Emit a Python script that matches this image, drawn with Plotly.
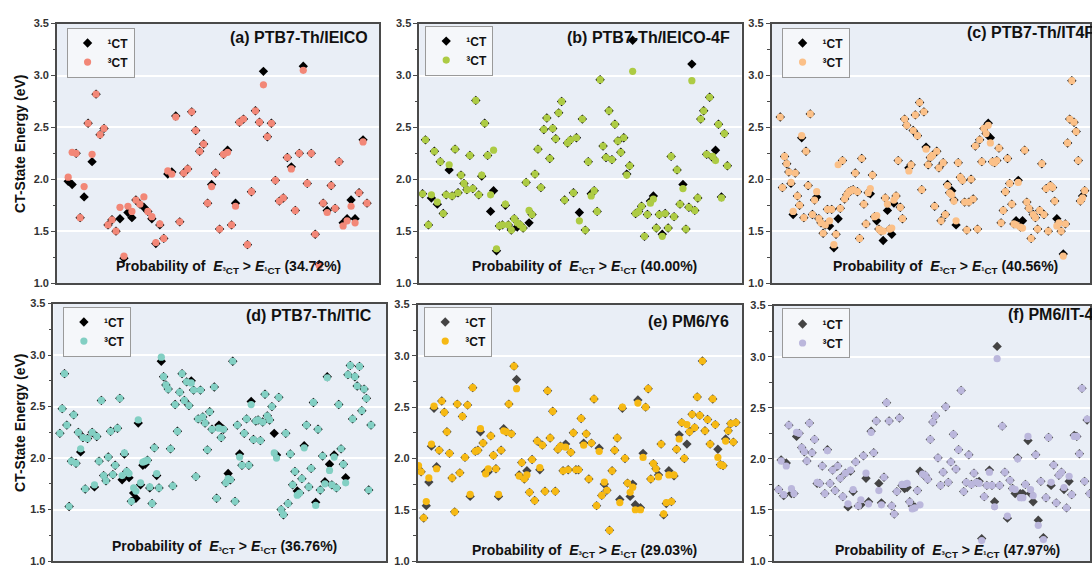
import plotly.graph_objects as go

W, H = 1092, 570

# ---------------- data (CT-state energies, eV) ----------------
A_1CT = [1.98,1.95,2.25,1.63,1.83,2.54,2.17,2.82,2.43,2.49,1.56,1.61,1.50,1.62,1.24,1.68,1.63,1.80,1.76,1.73,
         1.69,1.62,1.38,1.56,1.43,2.05,2.07,2.61,1.59,2.06,2.10,2.65,2.47,2.27,2.34,1.77,1.95,2.06,1.52,2.24,
         2.28,1.56,1.77,2.55,2.58,1.37,1.88,2.66,2.55,3.04,2.41,2.54,1.99,1.79,1.82,2.21,2.12,1.70,2.25,3.09,
         1.96,2.25,1.47,1.18,1.77,1.70,1.94,1.72,2.17,1.58,1.62,1.80,1.62,1.87,2.38,1.77]
A_3CT = [2.02,2.26,2.25,1.63,1.93,2.54,2.24,2.82,2.43,2.49,1.56,1.61,1.50,1.73,1.26,1.74,1.69,1.80,1.76,1.83,
         1.69,1.64,1.39,1.57,1.43,2.08,2.05,2.60,1.59,2.06,2.10,2.65,2.47,2.27,2.34,1.77,1.93,2.06,1.52,2.24,
         2.26,1.56,1.74,2.55,2.58,1.37,1.88,2.66,2.55,2.91,2.41,2.54,1.99,1.79,1.82,2.21,2.10,1.70,2.25,3.05,
         1.96,2.25,1.47,1.17,1.77,1.68,1.94,1.72,2.17,1.55,1.60,1.74,1.58,1.87,2.36,1.77]

B_1CT = [1.86,2.38,1.56,1.82,2.27,1.76,2.17,1.67,1.85,2.09,1.84,2.29,1.87,2.04,1.96,1.90,2.23,1.91,2.76,1.85,
         2.03,2.54,2.23,1.69,1.89,1.31,1.55,1.56,1.75,1.56,1.51,1.62,1.54,1.56,1.53,1.97,1.58,1.66,2.05,2.29,
         1.92,2.48,2.59,2.20,2.49,2.39,2.64,2.75,1.80,2.35,2.38,1.87,2.40,1.68,2.58,1.51,2.17,1.86,1.89,1.69,
         2.96,2.32,2.21,2.66,2.19,2.53,2.37,2.26,2.40,2.05,2.13,3.34,1.67,1.69,1.74,1.45,1.66,1.79,1.84,1.53,
         1.66,1.47,1.67,1.53,2.22,1.64,2.09,1.76,1.95,1.52,1.73,3.11,1.70,1.82,2.58,2.66,2.24,2.79,2.21,2.28,
         2.53,1.83,2.44,2.13]
B_3CT = [1.86,2.38,1.56,1.85,2.27,1.78,2.17,1.67,1.85,2.14,1.84,2.29,1.87,2.04,1.96,1.90,2.23,1.91,2.76,1.85,
         2.04,2.54,2.23,1.85,2.28,1.33,1.55,1.56,1.76,1.56,1.51,1.62,1.58,1.56,1.53,1.97,1.70,1.66,2.05,2.29,
         1.92,2.48,2.59,2.20,2.49,2.39,2.64,2.75,1.80,2.35,2.38,1.87,2.40,1.60,2.58,1.51,2.17,1.84,1.89,1.69,
         2.96,2.32,2.21,2.66,2.19,2.53,2.37,2.26,2.40,2.04,2.13,3.04,1.67,1.69,1.74,1.45,1.66,1.77,1.81,1.53,
         1.66,1.45,1.67,1.53,2.22,1.64,2.09,1.76,1.91,1.52,1.73,2.95,1.70,1.82,2.58,2.66,2.24,2.79,2.22,2.18,
         2.53,1.82,2.44,2.13]

C_1CT = [2.60,1.92,2.22,2.15,2.07,1.96,1.66,2.06,1.84,1.75,2.40,1.63,2.27,1.94,2.63,1.66,1.80,1.83,1.62,1.58,
         1.48,1.56,1.71,1.55,1.71,1.34,1.47,1.62,1.72,2.18,1.81,1.85,1.88,1.89,1.90,2.06,1.88,1.43,2.20,1.76,
         1.57,1.87,1.86,2.04,1.64,1.60,1.52,1.50,1.41,1.82,1.70,1.52,1.47,1.77,1.84,2.18,1.73,1.62,2.58,2.52,
         2.11,2.14,2.47,2.62,2.42,2.74,1.90,2.65,2.31,2.14,2.21,2.23,1.74,2.27,2.11,1.60,2.16,1.66,1.95,1.87,
         1.89,1.80,1.56,2.16,2.02,1.99,1.78,1.51,1.78,2.00,1.81,2.32,1.52,2.38,2.17,2.49,2.44,2.54,2.40,2.17,
         2.16,2.18,2.30,1.58,1.70,1.88,2.20,1.96,1.76,1.57,1.60,1.99,1.54,1.60,2.28,1.78,1.72,1.43,1.66,1.63,
         1.52,1.70,2.15,1.66,1.91,1.50,1.94,1.92,1.79,1.62,1.58,1.50,1.28,1.57,2.35,2.58,2.95,2.55,2.46,2.18,
         1.79,1.84,1.89]
C_3CT = [2.60,1.92,2.22,2.15,2.07,1.97,1.69,2.06,1.84,1.75,2.42,1.63,2.27,1.94,2.63,1.66,1.80,1.88,1.62,1.58,
         1.48,1.56,1.71,1.60,1.71,1.37,1.47,2.14,1.72,2.18,1.81,1.85,1.88,1.89,1.90,2.06,1.88,1.43,2.20,1.76,
         1.57,1.87,1.91,2.04,1.64,1.65,1.52,1.50,1.50,1.82,1.76,1.52,1.53,1.80,1.84,2.18,1.73,1.62,2.58,2.52,
         2.08,2.14,2.47,2.62,2.42,2.74,1.90,2.65,2.29,2.14,2.21,2.23,1.74,2.27,2.11,1.60,2.16,1.66,1.94,1.87,
         1.85,1.79,1.60,2.16,2.02,1.99,1.78,1.51,1.78,2.00,1.81,2.32,1.52,2.38,2.17,2.49,2.44,2.52,2.35,2.17,
         2.16,2.18,2.30,1.58,1.70,1.88,2.20,1.96,1.76,1.57,1.56,1.97,1.54,1.53,2.28,1.78,1.72,1.43,1.66,1.63,
         1.52,1.70,2.15,1.66,1.91,1.50,1.94,1.92,1.79,1.55,1.58,1.50,1.26,1.57,2.35,2.58,2.95,2.55,2.46,2.18,
         1.79,1.82,1.89]

D_1CT = [2.24,2.48,2.82,2.32,1.53,1.97,2.42,1.95,2.25,2.06,2.20,1.70,2.19,3.03,2.25,1.72,2.21,1.97,2.56,1.83,
         1.78,2.01,2.26,1.84,1.93,2.29,2.58,1.79,2.04,1.87,1.81,1.58,1.66,1.61,2.34,1.74,1.93,1.94,1.98,1.71,
         1.56,2.10,1.83,1.71,2.94,2.79,2.71,2.67,2.09,1.73,2.52,2.26,2.64,2.82,2.56,2.74,2.51,2.75,2.66,1.82,
         2.38,2.66,2.40,2.34,2.08,2.45,2.28,2.69,1.61,2.32,2.20,2.28,1.76,1.85,1.79,2.94,1.58,2.32,2.04,1.93,
         2.24,2.38,1.93,2.55,2.18,2.36,2.37,2.17,2.35,2.62,2.41,2.37,2.50,2.24,2.03,2.59,1.50,1.45,2.24,1.56,
         2.04,1.74,1.87,1.68,1.66,1.80,2.12,2.32,1.72,1.90,2.54,1.57,2.28,1.69,2.02,1.77,2.79,1.94,1.74,2.03,
         1.71,2.52,2.09,1.94,1.81,2.81,2.90,2.38,2.79,2.70,2.89,2.46,2.67,2.58,1.69,2.32]
D_3CT = [2.24,2.48,2.82,2.32,1.53,1.97,2.42,1.95,2.25,2.09,2.20,1.70,2.19,3.03,2.25,1.74,2.21,1.97,2.56,1.83,
         1.78,2.01,2.26,1.84,1.93,2.29,2.58,1.83,2.05,1.87,1.85,1.58,1.71,1.68,2.37,1.76,1.96,1.97,1.98,1.72,
         1.56,2.10,1.85,1.71,2.98,2.79,2.71,2.67,2.09,1.73,2.52,2.26,2.64,2.82,2.56,2.74,2.51,2.73,2.66,1.82,
         2.38,2.66,2.40,2.34,2.08,2.45,2.28,2.69,1.61,2.29,2.20,2.28,1.76,1.80,1.79,2.94,1.58,2.32,2.01,1.93,
         2.24,2.38,1.93,2.52,2.18,2.36,2.37,2.17,2.35,2.62,2.41,2.37,2.50,2.05,2.00,2.59,1.50,1.45,2.24,1.56,
         2.04,1.74,1.87,1.64,1.66,1.80,2.10,2.32,1.72,1.90,2.54,1.54,2.28,1.69,2.02,1.75,2.78,1.88,1.74,2.01,
         1.71,2.52,2.09,1.94,1.76,2.81,2.90,2.38,2.79,2.70,2.89,2.46,2.67,2.58,1.69,2.32]

E_1CT = [1.90,1.87,1.42,1.54,1.77,2.12,2.49,1.92,2.08,2.56,2.45,2.26,2.05,1.81,1.48,2.53,1.86,2.41,2.01,2.52,
         1.63,2.69,2.07,2.08,2.26,2.15,1.87,1.87,2.22,2.03,1.90,1.63,2.08,2.29,2.26,2.53,2.24,2.90,2.77,1.84,
         1.96,1.80,1.88,1.67,1.99,1.59,2.17,1.89,2.13,1.68,2.66,2.20,2.46,1.68,2.09,2.12,1.88,2.14,1.89,2.06,
         2.25,1.89,1.89,2.39,2.15,2.24,1.80,2.15,2.58,1.54,2.10,1.64,1.75,1.69,1.30,1.88,2.08,2.20,1.60,2.49,
         2.00,1.76,1.63,1.75,1.55,2.57,1.52,2.05,2.50,2.68,1.80,1.95,1.90,1.84,2.14,1.45,1.56,1.88,1.58,1.83,
         2.09,2.23,2.35,2.00,2.14,2.26,2.43,2.30,2.60,2.42,2.95,2.27,2.38,2.14,2.58,2.33,2.09,1.94,1.93,2.19,
         2.27,2.34,2.16,2.35]
E_3CT = [1.93,1.87,1.42,1.58,1.81,2.14,2.51,1.90,2.08,2.56,2.45,2.26,2.05,1.81,1.48,2.53,1.86,2.41,2.01,2.52,
         1.65,2.69,2.07,2.08,2.29,2.15,1.85,1.90,2.22,2.03,1.90,1.65,2.08,2.27,2.26,2.53,2.24,2.90,2.68,1.83,
         1.96,1.80,1.84,1.67,1.99,1.59,2.17,1.91,2.13,1.68,2.66,2.20,2.46,1.68,2.09,2.12,1.88,2.11,1.89,2.06,
         2.25,1.89,1.89,2.39,2.13,2.24,1.80,2.15,2.58,1.54,2.07,1.64,1.77,1.69,1.30,1.88,2.08,2.20,1.57,2.50,
         2.00,1.76,1.67,1.72,1.50,2.54,1.50,2.01,2.50,2.68,1.80,1.95,1.90,1.82,2.14,1.46,1.57,1.84,1.58,1.84,
         2.09,2.19,2.35,2.00,2.33,2.26,2.43,2.30,2.60,2.42,2.95,2.27,2.38,2.14,2.58,2.33,2.01,1.94,1.93,2.17,
         2.27,2.34,2.16,2.35]

F_1CT = [1.70,1.99,1.64,1.96,2.33,1.66,1.66,2.22,2.25,2.11,2.07,1.98,2.35,2.06,2.19,1.76,1.76,1.93,1.66,2.09,
         1.76,1.89,1.69,1.93,1.81,1.63,1.86,1.53,1.88,1.68,1.97,1.54,1.55,2.03,1.81,1.58,2.27,2.06,2.37,1.76,
         1.57,1.82,2.55,2.37,1.54,1.46,1.68,2.40,1.74,1.71,1.72,1.58,1.54,1.53,1.69,1.88,1.85,1.84,1.80,2.19,
         2.36,2.42,2.01,1.74,1.87,2.51,1.77,1.97,2.24,1.90,2.09,2.67,1.68,1.77,2.04,1.75,1.86,1.77,1.78,1.22,
         1.63,1.74,1.89,1.74,1.58,3.10,1.74,2.32,1.87,1.42,1.79,1.71,1.66,2.01,1.66,1.66,1.75,2.18,1.66,1.58,
         2.04,1.40,1.78,1.23,1.62,2.21,1.74,1.94,1.57,1.84,1.87,1.70,1.52,1.78,1.65,2.23,2.22,2.05,2.69,1.78,
         2.38,1.66]
F_3CT = [1.70,1.98,1.65,1.93,2.33,1.71,1.66,2.26,2.25,2.11,2.07,1.98,2.35,2.06,2.19,1.77,1.76,1.93,1.66,2.08,
         1.76,1.89,1.69,1.93,1.81,1.63,1.86,1.56,1.89,1.70,1.97,1.54,1.60,2.03,1.86,1.56,2.26,2.06,2.37,1.69,
         1.55,1.82,2.55,2.37,1.54,1.46,1.68,2.40,1.75,1.75,1.76,1.58,1.51,1.52,1.69,1.55,1.85,1.84,1.80,2.19,
         2.36,2.42,2.01,1.74,1.87,2.51,1.77,1.97,2.24,1.90,2.09,2.67,1.68,1.77,2.04,1.75,1.86,1.77,1.76,1.20,
         1.63,1.74,1.87,1.74,1.53,2.98,1.74,2.32,1.87,1.44,1.79,1.71,1.70,2.00,1.62,1.62,1.75,2.22,1.70,1.64,
         2.04,1.35,1.78,1.21,1.62,2.21,1.77,1.94,1.57,1.84,1.87,1.72,1.52,1.83,1.65,2.22,2.22,2.05,2.69,1.78,
         2.39,1.66]

TITLES = ["(a) PTB7-Th/IEICO", "(b) PTB7-Th/IEICO-4F", "(c) PTB7-Th/IT4F",
          "(d) PTB7-Th/ITIC", "(e) PM6/Y6", "(f) PM6/IT-4F"]
PROBS = ["34.72%", "40.00%", "40.56%", "36.76%", "29.03%", "47.97%"]
Y_TICKS = [1.0, 1.5, 2.0, 2.5, 3.0, 3.5]
SERIES_1CT = [A_1CT, B_1CT, C_1CT, D_1CT, E_1CT, F_1CT]
SERIES_3CT = [A_3CT, B_3CT, C_3CT, D_3CT, E_3CT, F_3CT]

# ---------------- styles / layout ----------------
COL_3CT = ["#F28777", "#ADCB44", "#FBC088", "#82CFC3", "#F6B914", "#BBB7DC"]
COL_1CT = ["#000000", "#000000", "#000000", "#000000", "#444444", "#444444"]
BG = "#E9EEF6"
FONT = "Arial, Liberation Sans, sans-serif"

# panel pixel geometry: left, right, top, bottom, first point x, last point x
GEOM = [
    (57, 380, 18, 283, 68.3, 367.7),
    (420, 743, 18, 283, 423.3, 728.7),
    (773, 1092, 18, 283, 781.7, 1086.7),
    (53.5, 386.7, 304, 567, 60.0, 371.7),
    (418.3, 743.3, 305, 567, 419.3, 737.3),
    (775, 1092, 306, 567, 780.0, 1091.7),
]
# title position (x px, y px, anchor)
TITLE_POS = [(371, 32, "right"), (733, 32, "right"), (967, 27, "left"),
             (375, 316, "right"), (732, 322, "right"), (1008, 315, "left")]
PROB_POS = [(228.7, 267), (585.7, 267), (947.5, 267), (224.7, 553), (585.7, 557), (949, 557)]
LEG_POS = [(66.7, 22), (426, 20), (783, 22), (63, 307), (425, 307), (783, 309)]

fig = go.Figure()
layout = {}
annotations = []

for i in range(6):
    n = i + 1
    sfx = "" if n == 1 else str(n)
    e1, e3 = SERIES_1CT[i], SERIES_3CT[i]
    npts = len(e1)
    xs = list(range(npts))
    left, right, top, bottom, first, last = GEOM[i]
    sp = (last - first) / (npts - 1)
    xr = [-(first - left) / sp, (npts - 1) + (right - last) / sp]
    leg = "legend" + sfx

    fig.add_trace(go.Scatter(
        x=xs, y=e1, mode="markers", name="\u00b9CT",
        marker=dict(symbol="diamond", size=7.2, color=COL_1CT[i], line=dict(width=0)),
        xaxis="x" + sfx, yaxis="y" + sfx, legend=leg))
    fig.add_trace(go.Scatter(
        x=xs, y=e3, mode="markers", name="\u00b3CT",
        marker=dict(symbol="circle", size=7.2, color=COL_3CT[i], line=dict(width=0)),
        xaxis="x" + sfx, yaxis="y" + sfx, legend=leg))

    layout["xaxis" + sfx] = dict(
        domain=[left / W, min(right / W, 1.0)], range=xr, anchor="y" + sfx,
        showgrid=False, zeroline=False, showticklabels=False, ticks="",
        showline=True, mirror=True, linecolor="#4a4a4a", linewidth=1.5)
    layout["yaxis" + sfx] = dict(
        domain=[1 - bottom / H, 1 - top / H], range=[1.0, 3.5], anchor="x" + sfx,
        tickvals=Y_TICKS, ticktext=["<b>%.1f</b>" % v for v in Y_TICKS],
        tickfont=dict(family=FONT, size=11, color="#333333"),
        ticks="outside", ticklen=4, tickwidth=1.2, tickcolor="#4a4a4a",
        minor=dict(dtick=0.25, tick0=1.0, ticks="outside", ticklen=2.5, tickcolor="#4a4a4a", showgrid=False),
        showgrid=True, gridcolor="#FFFFFF", gridwidth=1.5, zeroline=False,
        showline=True, mirror=True, linecolor="#4a4a4a", linewidth=1.5)

    lx, ly = LEG_POS[i]
    layout[leg] = dict(
        x=lx / W, y=1 - ly / H, xanchor="left", yanchor="top",
        bgcolor="#F5F7FA", bordercolor="#9a9a9a", borderwidth=1,
        font=dict(family=FONT, size=12, color="#111111", weight="bold"),
        itemwidth=30, tracegroupgap=0)

    tx, ty, tanc = TITLE_POS[i]
    annotations.append(dict(
        x=tx / W, y=1 - ty / H, xref="paper", yref="paper", xanchor=tanc, yanchor="middle",
        text="<b>%s</b>" % TITLES[i], showarrow=False,
        font=dict(family=FONT, size=16, color="#111111")))
    px_, py_ = PROB_POS[i]
    annotations.append(dict(
        x=px_ / W, y=1 - py_ / H, xref="paper", yref="paper", xanchor="center", yanchor="middle",
        text="<b>Probability of  <i>E</i><sub>\u00b3CT</sub> > <i>E</i><sub>\u00b9CT</sub> (%s)</b>" % PROBS[i],
        showarrow=False, font=dict(family=FONT, size=14, color="#111111")))

for yc in (141, 426):
    annotations.append(dict(
        x=20 / W, y=1 - yc / H, xref="paper", yref="paper", xanchor="center", yanchor="middle",
        text="<b>CT-State Energy (eV)</b>", textangle=-90, showarrow=False,
        font=dict(family=FONT, size=14, color="#111111")))

fig.update_layout(
    width=W, height=H, margin=dict(l=0, r=0, t=0, b=0),
    paper_bgcolor="white", plot_bgcolor=BG,
    font=dict(family=FONT), annotations=annotations, **layout)

fig.write_html("out.html")
